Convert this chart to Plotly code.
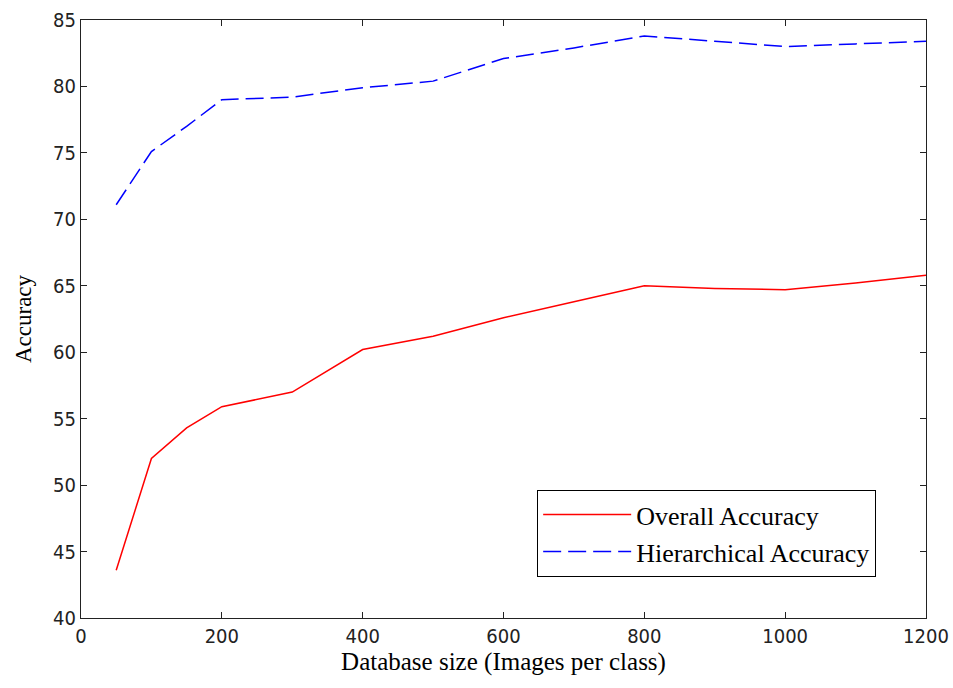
import plotly.graph_objects as go

db_size = [50, 100, 150, 200, 300, 400, 500, 600, 700, 800, 900, 1000, 1100, 1200]
overall_acc = [43.6, 52.0, 54.3, 55.9, 57.0, 60.2, 61.2, 62.6, 63.8, 65.0, 64.8, 64.7, 65.2, 65.8]
hier_acc = [71.1, 75.1, 77.0, 79.0, 79.2, 79.9, 80.4, 82.1, 82.9, 83.8, 83.4, 83.0, 83.2, 83.4]

x_ticks = [0, 200, 400, 600, 800, 1000, 1200]
y_ticks = [40, 45, 50, 55, 60, 65, 70, 75, 80, 85]

SERIF = "Liberation Serif"
TICKF = "DejaVu Sans Condensed, Liberation Sans Narrow, sans-serif"

fig = go.Figure()
fig.add_trace(go.Scatter(x=db_size, y=overall_acc, mode="lines",
                         name="Overall Accuracy",
                         line=dict(color="#ff0000", width=1.5)))
fig.add_trace(go.Scatter(x=db_size, y=hier_acc, mode="lines",
                         name="Hierarchical Accuracy",
                         line=dict(color="#0000ff", width=1.5, dash="18px,7px")))

axis_common = dict(showgrid=False, zeroline=False, showline=True, mirror="ticks",
                   linecolor="#222", linewidth=1.2, ticks="inside", ticklen=6,
                   tickcolor="#222", tickwidth=1.2, automargin=False,
                   ticklabeloverflow="allow",
                   tickfont=dict(family=TICKF, size=20, color="#222"))

fig.update_layout(
    width=953, height=688,
    paper_bgcolor="white", plot_bgcolor="white",
    margin=dict(l=81, r=27, t=20, b=70),
    showlegend=True,
    legend=dict(x=0.5396, y=0.0686, xanchor="left", yanchor="bottom",
                bgcolor="white", bordercolor="black", borderwidth=1.2,
                font=dict(family=SERIF, size=26, color="black"),
                itemwidth=88, tracegroupgap=0),
    xaxis=dict(range=[0, 1200], tickvals=x_ticks,
               title=dict(text="Database size (Images per class)",
                          font=dict(family=SERIF, size=25, color="black"), standoff=4),
               **axis_common),
    yaxis=dict(range=[40, 85], tickvals=y_ticks,
               title=dict(text="Accuracy",
                          font=dict(family=SERIF, size=23, color="black"), standoff=14),
               **axis_common),
)

fig.write_html("out.html",
               config={"displayModeBar": False},
               post_script="document.body.style.margin='0';document.body.style.overflow='hidden';")
